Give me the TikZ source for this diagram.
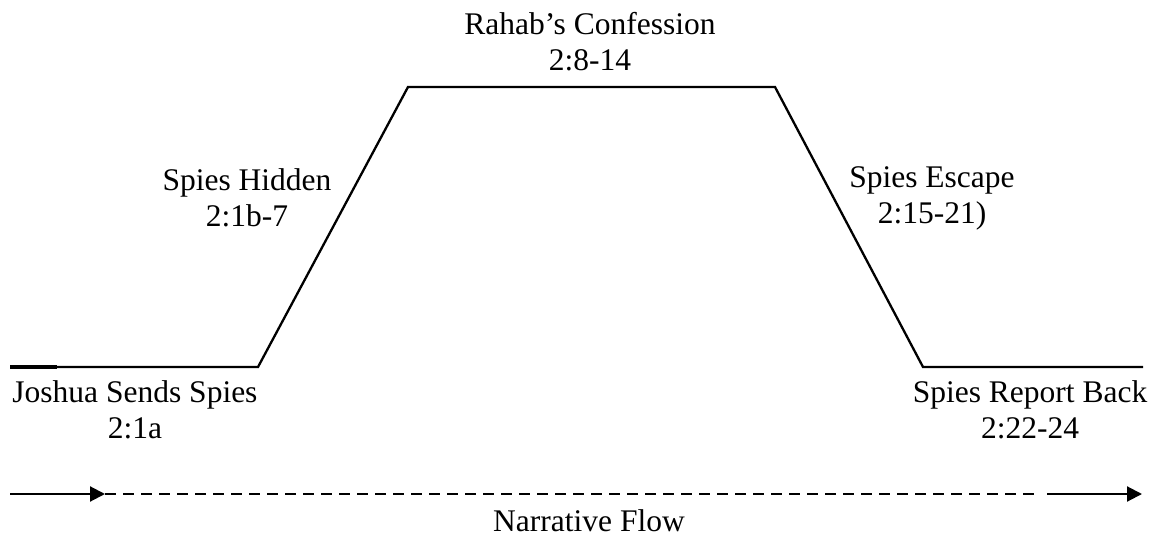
\documentclass[tikz,border=0pt]{standalone}
\usepackage{fontspec}
\setmainfont{Liberation Serif}
\usetikzlibrary{arrows.meta}
\tikzset{
  plotline/.style={line width=2.3pt, line join=miter},
  lbl/.style={inner sep=0pt, align=center, font=\fontsize{31.5}{36}\selectfont},
  flowsolid/.style={line width=2.1pt, -{Triangle[length=15pt,width=15pt]}},
  flowdash/.style={line width=2.1pt, dash pattern=on 11pt off 7pt},
}
\begin{document}
\begin{tikzpicture}[x=1pt,y=-1pt]
\useasboundingbox (0,0) rectangle (1159,540);
% plot line points
\coordinate (p0) at (10,367);
\coordinate (p0b) at (57,367);
\coordinate (p1) at (258,367);
\coordinate (p2) at (408,87);
\coordinate (p3) at (775,87);
\coordinate (p4) at (923,367);
\coordinate (p5) at (1143,367);
\draw[plotline] (p0) -- (p1) -- (p2) -- (p3) -- (p4) -- (p5);
\draw[line width=3.2pt] (p0) -- (p0b);
% labels
\node[lbl] (joshua) at (135,410) {Joshua Sends Spies\\2:1a};
\node[lbl] (hidden) at (247,198) {Spies Hidden\\2:1b-7};
\node[lbl] (rahab) at (590,42) {Rahab’s Confession\\2:8-14};
\node[lbl] (escape) at (932,198) {Spies Escape\\2:15-21)};
\node[lbl] (report) at (1030,410) {Spies Report Back\\2:22-24};
% narrative flow arrow
\coordinate (f0) at (10,494);
\coordinate (f1) at (105,494);
\coordinate (f2) at (1037,494);
\coordinate (f3) at (1047,494);
\coordinate (f4) at (1142,494);
\draw[flowsolid] (f0) -- (f1);
\draw[flowdash] (f1) -- (f2);
\draw[flowsolid] (f3) -- (f4);
\node[lbl] (flow) at (589,521) {Narrative Flow};
\end{tikzpicture}
\end{document}
